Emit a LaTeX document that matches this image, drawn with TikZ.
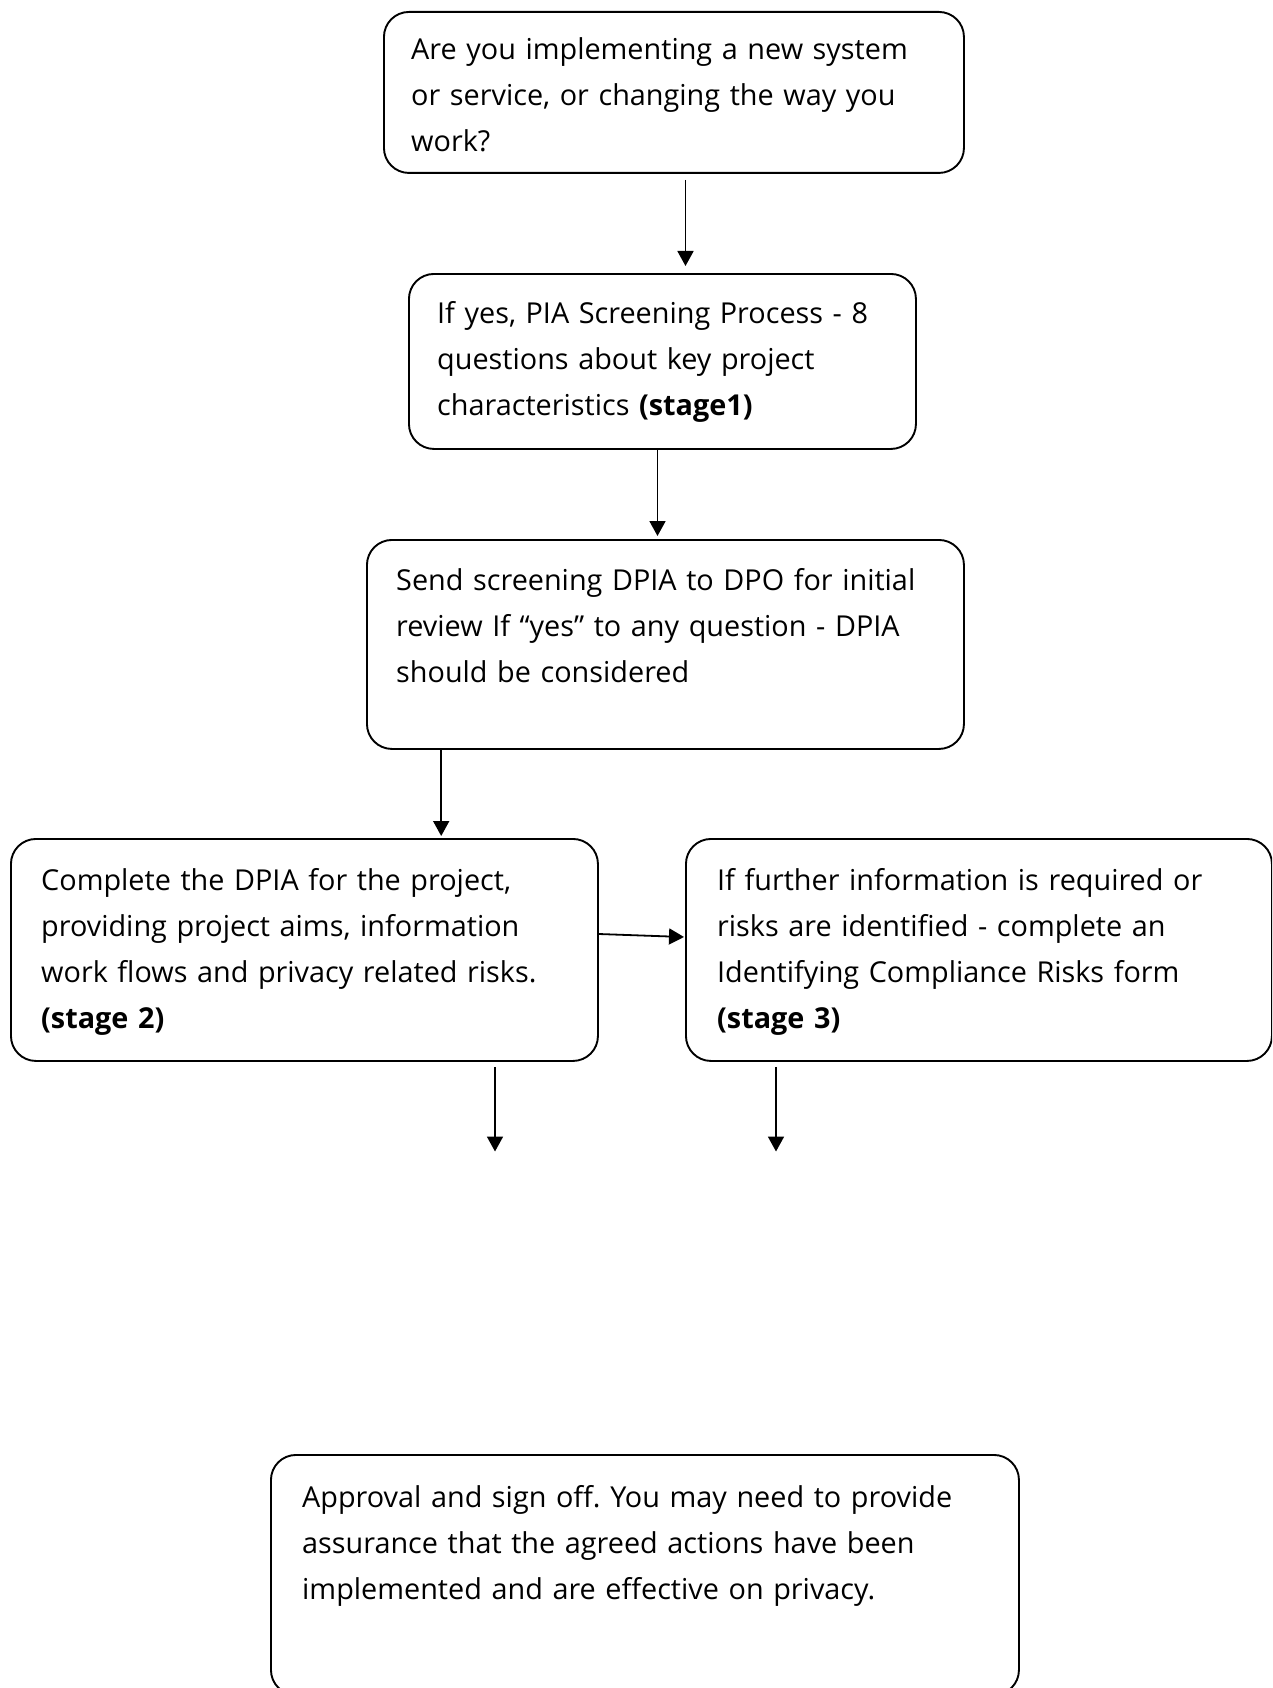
\documentclass[tikz,border=0pt]{standalone}
\usepackage{fontspec}
\setmainfont{Open Sans}
\usetikzlibrary{arrows.meta,calc}
\begin{document}
\frenchspacing
\begin{tikzpicture}[x=1pt,y=-1pt,
  box/.style={draw, line width=1.9pt, rounded corners=25pt, inner sep=0pt, anchor=north west},
  txt/.style={inner sep=0pt, anchor=north west, align=left, text width=#1,
    font=\fontsize{28.8}{46}\selectfont},
  arr/.style={line width=1.8pt, -{Triangle[length=15pt,width=16pt]}}]
\useasboundingbox (0,0) rectangle (1272,1688);
\clip (0,0) rectangle (1272,1688);
\fill[white] (0,0) rectangle (1272,1688);
% boxes
\node[box, minimum width=580pt, minimum height=161pt] (b1) at (383,11) {};
\node[box, minimum width=507pt, minimum height=175pt] (b2) at (408,273) {};
\node[box, minimum width=597pt, minimum height=209pt] (b3) at (366,539) {};
\node[box, minimum width=587pt, minimum height=222pt] (b4) at (10,838) {};
\node[box, minimum width=586pt, minimum height=222pt] (b5) at (685,838) {};
\node[box, minimum width=748pt, minimum height=240pt] (b6) at (270,1454) {};
% texts
\node[txt=800pt] (t1) at (411,27.3) {\strut Are you implementing a new system\\ or service, or changing the way you\\ work?};
\node[txt=800pt] (t2) at (437,291.5) {\strut If yes, PIA Screening Process - 8\\ questions about key project\\ characteristics \textbf{(stage1)}};
\node[txt=800pt] (t3) at (396,558.5) {\strut Send screening DPIA to DPO for initial\\ review If “yes” to any question - DPIA\\ should be considered};
\node[txt=800pt] (t4) at (41,858.5) {\strut Complete the DPIA for the project,\\ providing project aims, information\\ work flows and privacy related risks.\\ \textbf{(stage 2)}};
\node[txt=800pt] (t5) at (717,858.5) {\strut If further information is required or\\ risks are identified - complete an\\ Identifying Compliance Risks form\\ \textbf{(stage 3)}};
\node[txt=800pt] (t6) at (302,1475.5) {\strut Approval and sign off. You may need to provide\\ assurance that the agreed actions have been\\ implemented and are effective on privacy.};
% connectors
\draw[arr] ($(b1.south west)+(302.5,6)$) -- ($(b2.north west)+(277.5,-7)$);
\draw[arr] ($(b2.south west)+(249.5,0)$) -- ($(b3.north west)+(291.5,-3)$);
\draw[arr] ($(b3.south west)+(75.2,0)$) -- ($(b4.north west)+(431.2,-2)$);
\draw[arr] ($(b4.north east)+(0,96)$) -- ($(b5.north west)+(-1,99)$);
\coordinate (e4) at (495,1151.5);
\coordinate (e5) at (776,1151.5);
\draw[arr] ($(b4.south west)+(485,5)$) -- (e4);
\draw[arr] ($(b5.south west)+(91,5)$) -- (e5);
\end{tikzpicture}
\end{document}
